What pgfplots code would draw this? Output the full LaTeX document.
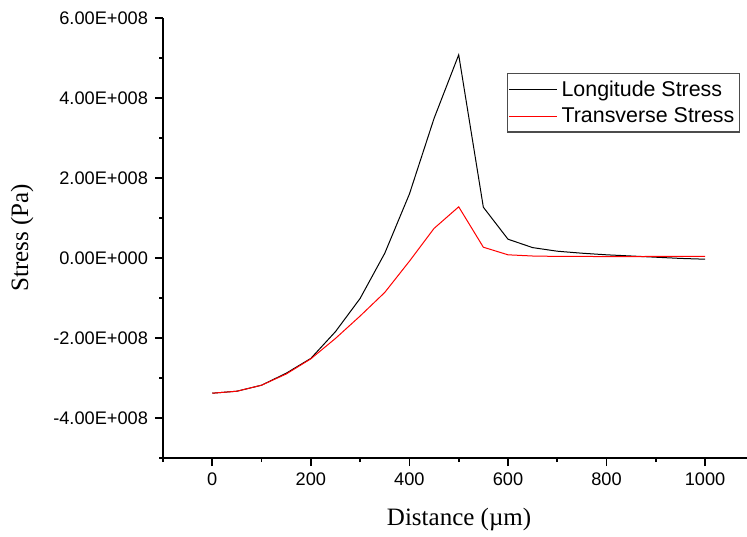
\documentclass[border=0pt]{standalone}
\usepackage{fontspec}
\setmainfont{Liberation Serif}
\setsansfont{Liberation Sans}
\usepackage{pgfplots}
\pgfplotsset{compat=1.18}
\usetikzlibrary{calc}

\begin{document}
\begin{tikzpicture}
\begin{axis}[
    scale only axis,
    width=292pt, height=220pt,
    xmin=-100, xmax=1085,
    ymin=-5e8, ymax=6e8,
    axis lines*=left,
    axis line style={line width=1pt},
    tick align=outside,
    major tick length=4pt,
    minor tick length=2pt,
    tick style={line width=0.8pt, black},
    scaled y ticks=false,
    xtick={0,200,400,600,800,1000},
    minor xtick={-100,100,300,500,700,900},
    ytick={-4e8,-2e8,0,2e8,4e8,6e8},
    minor ytick={-5e8,-3e8,-1e8,1e8,3e8,5e8},
    yticklabels={-4.00E+008,-2.00E+008,0.00E+000,2.00E+008,4.00E+008,6.00E+008},
    /pgf/number format/assume math mode=true,
    /pgf/number format/set thousands separator={},
    ticklabel style={font=\sffamily\fontsize{9.1}{11}\selectfont},
    xlabel={Distance (\textmu m)},
    ylabel={Stress (Pa)},
    every axis x label/.style={at={(rel axis cs:0.507,0)}, yshift=-30.5pt, anchor=center,
        font=\fontsize{12.5}{14}\selectfont},
    every axis y label/.style={at={(rel axis cs:0,0.5)}, xshift=-70.5pt, rotate=90, anchor=center,
        font=\fontsize{12.5}{14}\selectfont},
    legend style={at={(rel axis cs:0.988,0.875)}, anchor=north east,
        draw=black!70, line width=0.6pt, font=\sffamily\fontsize{10.7}{12}\selectfont,
        inner xsep=0.5pt, inner ysep=1.5pt, row sep=0pt, cells={anchor=west}},
    legend image code/.code={\draw[#1, line width=0.5pt] (0pt,0pt) -- (24pt,0pt);},
]
\coordinate (sw) at (rel axis cs:0,0);
\coordinate (ne) at (rel axis cs:1,1);
\addplot[black, line width=0.5pt] coordinates {
    (0,-3.38e8) (50,-3.33e8) (100,-3.18e8) (150,-2.88e8) (200,-2.51e8)
    (250,-1.84e8) (300,-1.01e8) (350,0.12e8) (400,1.60e8) (450,3.49e8)
    (500,5.08e8) (550,1.27e8) (600,0.47e8) (650,0.26e8) (700,0.17e8)
    (750,0.12e8) (800,0.08e8) (850,0.05e8) (900,0.02e8) (950,-0.01e8)
    (1000,-0.03e8)
};
\addlegendentry{Longitude Stress}
\addplot[red, line width=0.5pt] coordinates {
    (0,-3.38e8) (50,-3.33e8) (100,-3.18e8) (150,-2.90e8) (200,-2.52e8)
    (250,-2.01e8) (300,-1.45e8) (350,-0.86e8) (400,-0.08e8) (450,0.74e8)
    (500,1.28e8) (550,0.27e8) (600,0.08e8) (650,0.05e8) (700,0.04e8)
    (750,0.04e8) (800,0.035e8) (850,0.035e8) (900,0.04e8) (950,0.04e8)
    (1000,0.04e8)
};
\addlegendentry{Transverse Stress}
\end{axis}
\pgfresetboundingbox
\path ($(sw)+(-81.5pt,-39pt)$) rectangle ($(ne)+(0,9pt)$);
\end{tikzpicture}
\end{document}
